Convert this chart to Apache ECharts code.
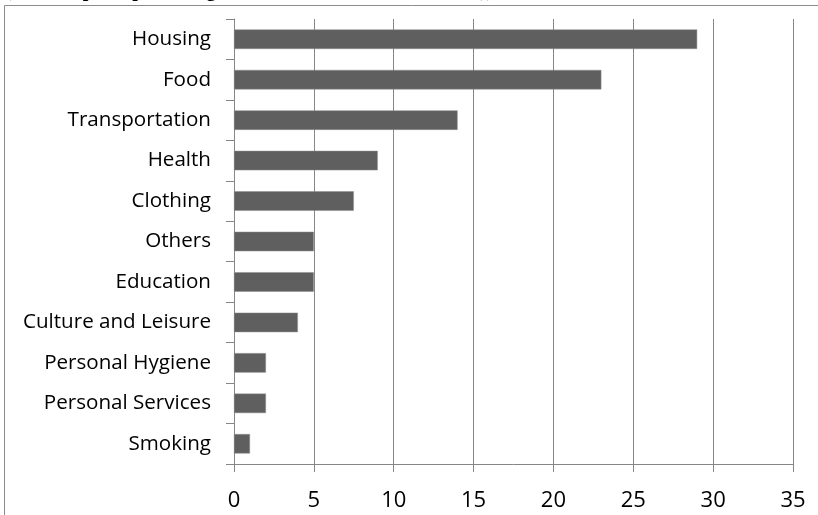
<!DOCTYPE html>
<html>
<head>
<meta charset="utf-8">
<script src="https://cdn.jsdelivr.net/npm/echarts@6/dist/echarts.min.js"></script>
<style>
html,body{margin:0;padding:0;background:#fff;}
#chart{width:818px;height:515px;}
</style>
</head>
<body>
<div id="chart"></div>
<script>
var categories = ["Housing","Food","Transportation","Health","Clothing","Others","Education","Culture and Leisure","Personal Hygiene","Personal Services","Smoking"];
var values = [29, 23, 14, 9, 7.5, 5, 5, 4, 2, 2, 1];
var xTicks = [0, 35, 5];
var titleText = "(Consumption percentage of the total household income))";

var chart = echarts.init(document.getElementById('chart'), null, {renderer: 'canvas'});
var gray = '#868686';
chart.setOption({
  animation: false,
  backgroundColor: '#ffffff',
  grid: {left: 234, right: 25, top: 19, bottom: 51, containLabel: false},
  graphic: [
    {type: 'rect', shape: {x: 4.5, y: 5.5, width: 900, height: 600}, style: {fill: 'none', stroke: '#8c8c8c', lineWidth: 1}, silent: true, z: 1},
    {type: 'text', x: 5, y: -19, z: 2, style: {text: titleText, font: 'bold 20px "Liberation Serif", "Times New Roman", serif', fill: '#000', verticalAlign: 'top', align: 'left'}}
  ],
  xAxis: {
    type: 'value', min: xTicks[0], max: xTicks[1], interval: xTicks[2],
    axisLine: {show: true, lineStyle: {color: gray, width: 1}},
    axisTick: {show: true, length: 8, lineStyle: {color: gray}},
    splitLine: {show: true, lineStyle: {color: gray, width: 1}},
    axisLabel: {color: '#000', fontSize: 22, fontFamily: '"Open Sans"', margin: 26}
  },
  yAxis: {
    type: 'category', data: categories, inverse: true,
    axisLine: {show: true, lineStyle: {color: gray, width: 1}},
    axisTick: {show: true, length: 8, alignWithLabel: false, lineStyle: {color: gray}},
    splitLine: {show: false},
    axisLabel: {color: '#000', fontSize: 20.6, fontFamily: '"Open Sans"', margin: 23}
  },
  series: [{
    type: 'bar', data: values, barWidth: 19.5,
    itemStyle: {color: '#5f5f5f', borderColor: '#8f8f8f', borderWidth: 0.5}
  }]
});
</script>
</body>
</html>
